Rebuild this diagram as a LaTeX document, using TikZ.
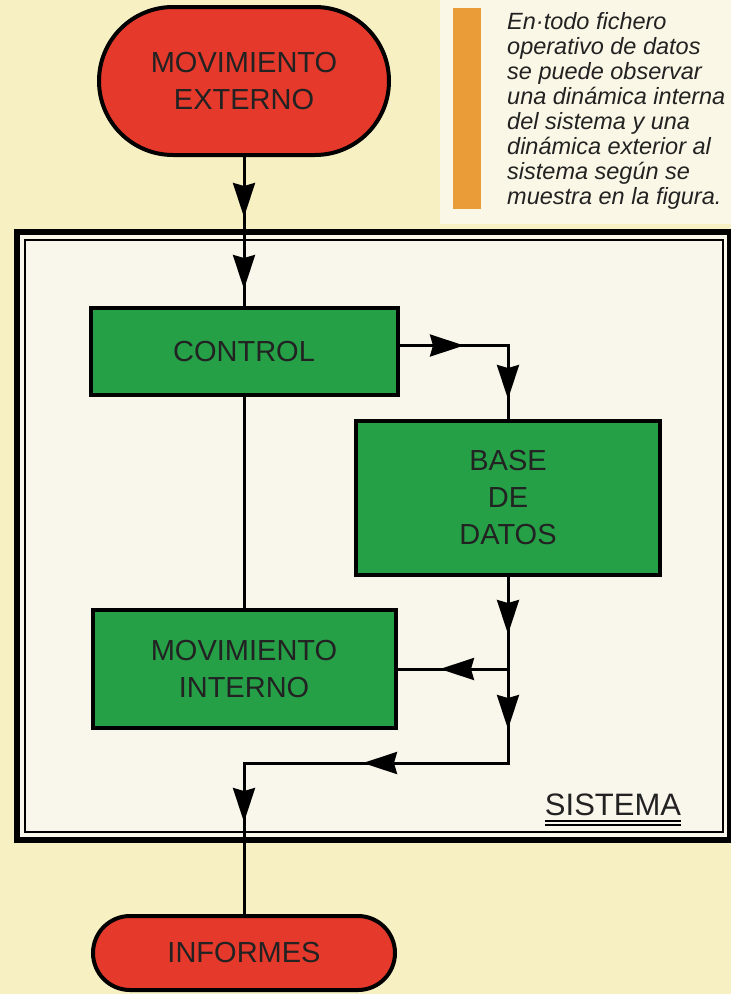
\documentclass[tikz,border=0pt]{standalone}
\usepackage{fontspec}
\setmainfont{Liberation Sans}
\usetikzlibrary{arrows.meta,decorations.markings}
\usepackage{xcolor}
\definecolor{fondo}{HTML}{F6F0C2}
\definecolor{fondoclaro}{HTML}{FAF7E6}
\definecolor{sistemafondo}{HTML}{F9F6EB}
\definecolor{rojo}{HTML}{E5392B}
\definecolor{verde}{HTML}{25A047}
\definecolor{naranja}{HTML}{E99C38}
\definecolor{tinta}{HTML}{222222}

\tikzset{
  bloque/.style={draw=black,line width=4pt,fill=verde,inner sep=0pt,align=center,
    text=tinta,font=\fontsize{29}{37}\selectfont},
  terminal/.style={bloque,fill=rojo,rounded corners=#1},
  linea/.style={line width=3pt},
  flecha/.style={postaction={decorate,decoration={markings,
    mark=at position #1 with {\arrow{Stealth[length=34pt,width=22pt,inset=3pt]}}}}}
}

\begin{document}
\begin{tikzpicture}[x=1pt,y=-1pt]
    % fondo y marco de la pagina
    \useasboundingbox (0,0) rectangle (731,994);
    \fill[fondo] (0,0) rectangle (731,994);
    \fill[fondoclaro] (440,0) rectangle (731,224);

    % nota al margen
    \fill[naranja] (453,8) rectangle (481,209);
    \node[anchor=north west,align=left,inner sep=0pt,text=tinta,
      font=\fontsize{23.5}{25}\selectfont\itshape] (nota) at (507,12)
      {En·todo fichero\\operativo de datos\\se puede observar\\una dinámica interna\\
       del sistema y una\\dinámica exterior al\\sistema según se\\muestra en la figura.};

    % recuadro del sistema (doble linea)
    \draw[line width=6pt,fill=sistemafondo] (16.5,232) rectangle (730,840);
    \draw[line width=1.5pt] (25,240) rectangle (723,832);
    \node[anchor=base,inner sep=0pt,text=tinta,font=\fontsize{31}{31}\selectfont]
      (sistema) at (613,815) {SISTEMA};
    \draw[line width=1.3pt] ([yshift=-6pt]sistema.base west) -- ([yshift=-6pt]sistema.base east);
    \draw[line width=1.3pt] ([yshift=-10pt]sistema.base west) -- ([yshift=-10pt]sistema.base east);

    % bloques
    \node[terminal=74pt,minimum width=290pt,minimum height=148pt] (externo) at (244,81) {MOVIMIENTO\\EXTERNO};
    \node[bloque,minimum width=307pt,minimum height=87pt] (control) at (244,351.5) {CONTROL};
    \node[bloque,minimum width=304pt,minimum height=154pt] (base) at (508,498) {BASE\\DE\\DATOS};
    \node[bloque,minimum width=303pt,minimum height=118pt] (interno) at (244,669) {MOVIMIENTO\\INTERNO};
    \node[terminal=37pt,minimum width=302pt,minimum height=74pt] (informes) at (244,953) {INFORMES};

    % puntos de union
    \coordinate (union) at (508,669);
    \coordinate (codo) at (508,763);

    % conexiones
    \draw[linea,flecha=60pt,flecha=132pt] (externo.south) -- (control.north);
    \draw[linea,flecha=64.5pt,flecha=162pt] ([yshift=6pt]control.east) -| (base.north);
    \draw[linea] (control.south) -- (interno.north);
    \draw[linea,flecha=57pt,flecha=152pt,flecha=331pt,flecha=509pt] (base.south) -- (codo) -| (informes.north);
    \draw[linea,flecha=68pt] (union) -- (interno.east);
\end{tikzpicture}
\end{document}
